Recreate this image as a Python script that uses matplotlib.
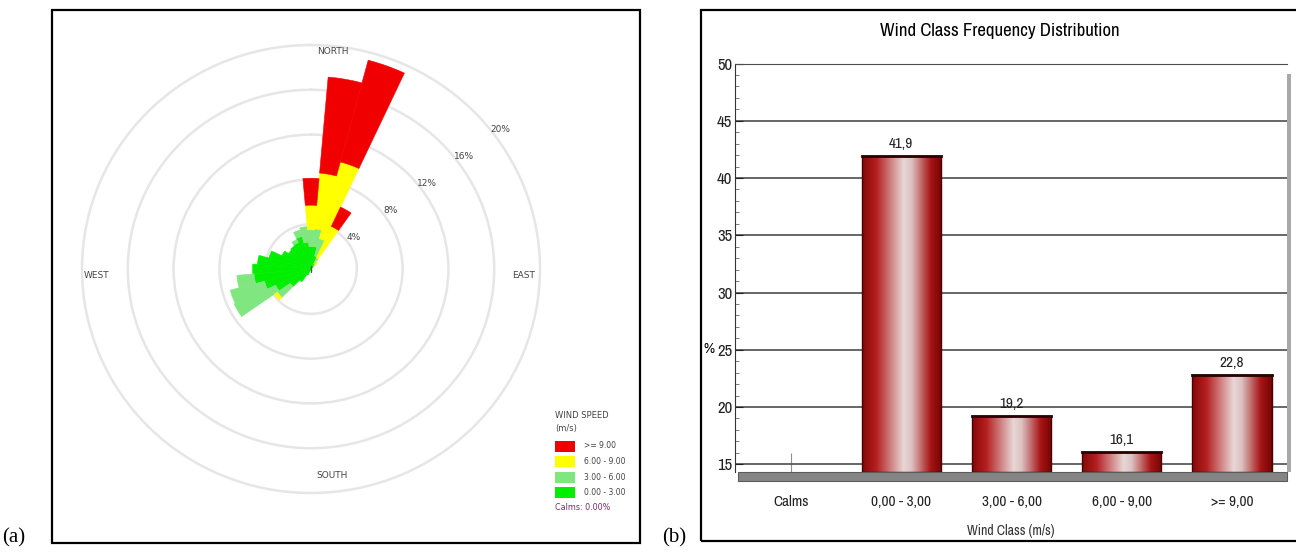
import os
import numpy as np
import matplotlib
matplotlib.use("Agg")
import matplotlib.pyplot as plt
from matplotlib import font_manager as fm
from matplotlib.font_manager import FontProperties
from matplotlib.patches import Rectangle
from matplotlib.colors import LinearSegmentedColormap

# wind rose: 36 sectors of 10 degrees, frequency (%) per speed class
directions = np.arange(0, 360, 10)
spd_0_3 = [2.0, 2.0, 1.2, 0.5, 0.3, 0, 0, 0, 0, 0, 0, 0,
           0, 0, 0, 0, 0, 0, 0, 0, 0, 0.6, 1.4, 2.2,
           3.4, 4.2, 5.0, 5.1, 4.7, 3.8, 2.8, 2.4, 2.5, 2.6, 3.0, 2.4]
spd_3_6 = [1.5, 1.6, 1.6, 0.6, 0.2, 0, 0, 0, 0, 0, 0, 0,
           0, 0, 0, 0, 0, 0, 0, 0, 0, 0, 0, 1.4,
           4.0, 3.1, 1.5, 0, 0, 0, 0, 0, 0, 0.3, 0.6, 1.4]
spd_6_9 = [2.2, 5.0, 7.1, 3.1, 0.3, 0, 0, 0, 0, 0, 0, 0,
           0, 0, 0, 0, 0, 0, 0, 0, 0, 0, 0, 0.3,
           0, 0, 0, 0, 0, 0, 0, 0, 0, 0, 0, 0]
spd_9 = [2.4, 8.6, 9.4, 1.9, 0, 0, 0, 0, 0, 0, 0, 0,
         0, 0, 0, 0, 0, 0, 0, 0, 0, 0, 0, 0,
         0, 0, 0, 0, 0, 0, 0, 0, 0, 0, 0, 0]
rose_rings = [4, 8, 12, 16, 20]
speed_labels = [">= 9.00", "6.00 - 9.00", "3.00 - 6.00", "0.00 - 3.00"]
speed_colors = ["#f00000", "#ffff00", "#80e680", "#00ee00"]

# wind class frequency distribution
classes = ["Calms", "0,00 - 3,00", "3,00 - 6,00", "6,00 - 9,00", ">= 9,00"]
freq = [0.0, 41.9, 19.2, 16.1, 22.8]

W, H = 1296, 553


def find_narrow_font():
    # look for a narrow / condensed regular sans face on this system
    skip = ["bold", "italic", "light", "thin", "medium", "black", "oblique", "heavy"]
    best = None
    for f in fm.fontManager.ttflist:
        base = os.path.basename(f.fname).lower()
        name = f.name.lower()
        if f.style != "normal" or any(s in base for s in skip):
            continue
        if "mono" in name or "serif" in name.replace("sans", ""):
            continue
        if "narrow" in name or "narrow" in base:
            rank = 0
        elif "semicondensed" in base or "semi-condensed" in str(f.stretch):
            rank = 2
        elif ("condensed" in base or "condensed" in name or str(f.stretch) == "condensed") \
                and "extra" not in base and "ultra" not in base:
            rank = 1
        else:
            continue
        if best is None or rank < best[0]:
            best = (rank, f.fname)
    return best[1] if best else None


NARROW_FILE = find_narrow_font()


def narrow(size):
    if NARROW_FILE:
        return FontProperties(fname=NARROW_FILE, size=size)
    return FontProperties(family="Liberation Sans", size=size * 0.84)


def fx(x):
    return x / W


def fy(y):
    return 1 - y / H


fig = plt.figure(figsize=(W / 100, H / 100), dpi=100)

# panel frames and letters
fig.add_artist(Rectangle((fx(52), fy(543)), (640 - 52) / W, (543 - 10) / H,
                         fill=False, lw=1.6, ec="black", transform=fig.transFigure))
fig.add_artist(Rectangle((fx(701), fy(541)), (1300 - 701) / W, (541 - 10) / H,
                         fill=False, lw=1.6, ec="black", transform=fig.transFigure))
fig.text(fx(2), fy(538), "(a)", family="Liberation Serif", fontsize=15, va="center")
fig.text(fx(662), fy(538), "(b)", family="Liberation Serif", fontsize=15, va="center")

# ---- (a) wind rose ----
cx, cy = 311, 269
rx, ry = 229 * 21 / 20, 224 * 21 / 20
ax1 = fig.add_axes([fx(cx - rx), fy(cy + ry), 2 * rx / W, 2 * ry / H], projection="polar")
ax1.set_aspect("auto")
ax1.set_theta_zero_location("N")
ax1.set_theta_direction(-1)
theta = np.radians(directions)
bottom = np.zeros(len(directions))
for vals, col in zip([spd_0_3, spd_3_6, spd_6_9, spd_9], speed_colors[::-1]):
    vals = np.array(vals)
    nz = vals > 0
    ax1.bar(theta[nz], vals[nz], width=np.radians(10), bottom=bottom[nz], color=col,
            edgecolor=col, linewidth=0.4, zorder=3)
    bottom += vals
ax1.set_ylim(0, 21)
ax1.set_yticks(rose_rings)
ax1.set_yticklabels([])
ax1.set_xticks([])
ax1.yaxis.grid(True, color="#e6e6e6", lw=1.8)
ax1.spines["polar"].set_visible(False)
ax1.set_facecolor("none")
ax1.plot([0], [0], marker="|", ms=5, color="#555555", zorder=4)
for r in rose_rings:
    ax1.text(np.radians(53), r + 0.7, f"{r}%", fontsize=6.5, color="#444444",
             ha="center", va="center")

for name, (px, py) in {"NORTH": (333, 52), "SOUTH": (332, 476),
                       "EAST": (524, 275), "WEST": (97, 275)}.items():
    fig.text(fx(px), fy(py), name, fontsize=6.5, color="#444444", ha="center", va="center")

# legend
fig.text(fx(555), fy(416), "WIND SPEED", fontsize=6, color="#444444", va="center")
fig.text(fx(555), fy(428), "(m/s)", fontsize=6, color="#444444", va="center")
for i, (lab, col) in enumerate(zip(speed_labels, speed_colors)):
    y = 446 + i * 15.5
    fig.add_artist(Rectangle((fx(555), fy(y + 5.5)), 20 / W, 11 / H, fc=col, ec="none",
                             transform=fig.transFigure))
    fig.text(fx(584), fy(y), lab, fontsize=5.5, color="#444444", va="center")
fig.text(fx(555), fy(507), "Calms: 0.00%", fontsize=5.8, color="#7a2a6a", va="center")

# ---- (b) bar chart ----
floor = 14.3
ax2 = fig.add_axes([fx(735), fy(472.3), 552 / W, 408.8 / H])
x = np.arange(len(classes))
cmap = LinearSegmentedColormap.from_list(
    "cyl", [(0, "#860808"), (0.18, "#b52020"), (0.52, "#e8d6d6"),
            (0.62, "#dcc2c2"), (0.86, "#a81515"), (1, "#740404")])
grad = np.linspace(0, 1, 256).reshape(1, -1)
bw = 0.72
for xi, v in zip(x, freq):
    if v <= floor:
        continue
    bar = ax2.bar(xi, v - floor, bottom=floor, width=bw, color="none",
                  edgecolor="#4a0000", lw=1, zorder=3)[0]
    im = ax2.imshow(grad, extent=[xi - bw / 2, xi + bw / 2, floor, v], aspect="auto",
                    cmap=cmap, zorder=2.5)
    im.set_clip_path(bar)
    ax2.plot([xi - bw / 2, xi + bw / 2], [v, v], color="#2a0000", lw=2, zorder=3.5)
    ax2.text(xi, v + 0.45, f"{v:.1f}".replace(".", ","), ha="center", va="bottom",
             fontproperties=narrow(11), color="#222222")

ax2.set_xlim(-0.51, 4.5)
ax2.set_ylim(floor, 50)
ax2.set_yticks(range(15, 51, 5))
ax2.set_yticks(np.arange(15, 51, 1), minor=True)
ax2.yaxis.grid(True, color="#4d4d4d", lw=1.2)
ax2.set_axisbelow(True)
ax2.tick_params(axis="y", which="major", direction="in", length=6, pad=2, colors="#222222")
ax2.tick_params(axis="y", which="minor", direction="in", length=3, color="#666666")
for lab in ax2.get_yticklabels():
    lab.set_fontproperties(narrow(12))
ax2.set_xticks(x, classes)
ax2.tick_params(axis="x", direction="in", length=14, color="#909090", pad=16,
                labelcolor="#222222")
for lab in ax2.get_xticklabels():
    lab.set_fontproperties(narrow(11))
for s in ["right", "bottom"]:
    ax2.spines[s].set_visible(False)
ax2.spines["top"].set_color("#4d4d4d")
ax2.spines["left"].set_color("#333333")

# floor and back wall
ax2.add_patch(Rectangle((0.005, -0.022), 0.995, 0.022, transform=ax2.transAxes,
                        fc="#858585", ec="#5c5c5c", lw=0.8, clip_on=False))
ax2.add_patch(Rectangle((1.0, 0), 0.008, 0.975, transform=ax2.transAxes,
                        fc="#a8a8a8", ec="none", clip_on=False))

ax2.set_ylabel("%", rotation=0, fontproperties=narrow(11), va="center", ha="center")
ax2.yaxis.set_label_coords((709 - 735) / 552, (472.3 - 349) / 408.8)
ax2.set_xlabel("Wind Class (m/s)", fontproperties=narrow(10), color="#333333", labelpad=11)

fig.text(fx(1000), fy(31), "Wind Class Frequency Distribution", ha="center", va="center",
         fontproperties=narrow(13.5))

fig.savefig("out.png", dpi=100)
